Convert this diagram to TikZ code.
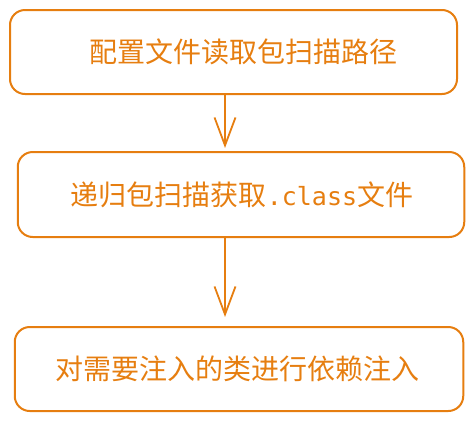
\documentclass[tikz,border=0pt]{standalone}
\usepackage{fontspec}
\setmainfont{Noto Sans CJK SC}
\setmonofont{DejaVu Sans Mono}
\usetikzlibrary{arrows.meta}
\definecolor{org}{RGB}{230,126,16}
\begin{document}
\begin{tikzpicture}[x=1pt,y=-1pt,
  box/.style={draw=org,line width=2pt,rounded corners=15pt,text=org,
    inner sep=0pt,font=\fontsize{28}{32}\selectfont},
  arr/.style={draw=org,line width=1.8pt,-{Straight Barb[length=28pt,width=21pt,line width=1.8pt]}}]
\useasboundingbox (0,0) rectangle (474,421);
\node[box,minimum width=447pt,minimum height=84pt] (b1) at (233.5,52) {\hspace*{20pt}配置文件读取包扫描路径};
\node[box,minimum width=446.5pt,minimum height=85pt] (b2) at (241,194.5) {\hspace*{2pt}递归包扫描获取{\fontsize{25}{30}\selectfont\texttt{.class}}文件};
\node[box,minimum width=448.5pt,minimum height=84pt] (b3) at (239,369) {对需要注入的类进行依赖注入\hspace*{3pt}};
\coordinate (ax) at (225,0);
\draw[arr,shorten >=3pt] (b1.south -| ax) -- (b2.north -| ax);
\draw[arr,shorten >=9pt] (b2.south -| ax) -- (b3.north -| ax);
\end{tikzpicture}
\end{document}
